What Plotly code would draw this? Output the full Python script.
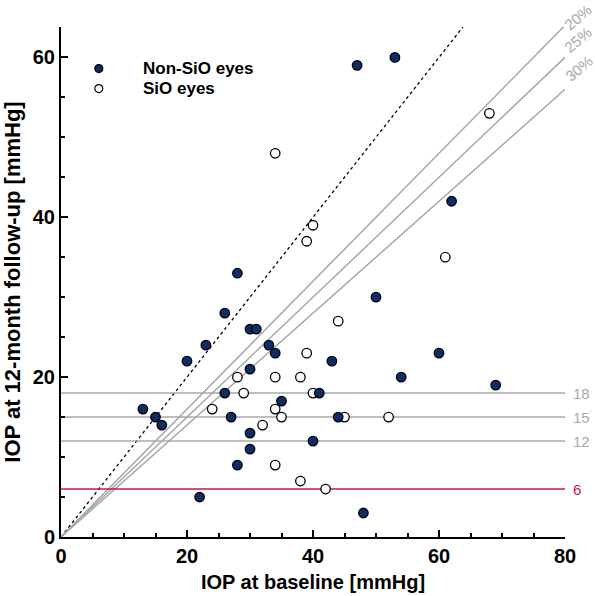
import plotly.graph_objects as go

# ---- data ----
nonsio_baseline = [47, 53, 62, 28, 50, 26, 30, 31, 23, 33, 34, 60, 20, 43, 30, 54, 69, 26, 41, 35, 13, 15, 27, 44, 16, 30, 40, 30, 28, 22, 48]
nonsio_followup = [59, 60, 42, 33, 30, 28, 26, 26, 24, 24, 23, 23, 22, 22, 21, 20, 19, 18, 18, 17, 16, 15, 15, 15, 14, 13, 12, 11, 9, 5, 3]
sio_baseline = [34, 68, 40, 39, 61, 44, 39, 28, 34, 38, 29, 40, 24, 34, 35, 45, 52, 32, 34, 38, 42]
sio_followup = [48, 53, 39, 37, 35, 27, 23, 20, 20, 20, 18, 18, 16, 16, 15, 15, 15, 14, 9, 7, 6]

reduction_labels = ["20%", "25%", "30%"]
reduction_factors = [0.8, 0.75, 0.7]
threshold_levels = [18, 15, 12]
threshold_labels = ["18", "15", "12"]
failure_level = 6
failure_label = "6"
legend_names = ["Non-SiO eyes", "SiO eyes"]

X_MAX = 80
Y_MAX = 63.8

NAVY = "#0f2c66"
GRAY = "#a8a8a8"
RED = "#c4174b"
FONT = "Liberation Sans, Arial, sans-serif"

fig = go.Figure()

# identity (dotted) line
fig.add_trace(go.Scatter(x=[0, Y_MAX], y=[0, Y_MAX], mode="lines",
                         line=dict(color="black", width=1.3, dash="dot"),
                         showlegend=False, hoverinfo="skip"))
# reduction lines
for f in reduction_factors:
    fig.add_trace(go.Scatter(x=[0, X_MAX], y=[0, X_MAX * f], mode="lines",
                             line=dict(color=GRAY, width=1.5),
                             showlegend=False, hoverinfo="skip"))
# threshold lines
for lvl in threshold_levels:
    fig.add_trace(go.Scatter(x=[0, X_MAX], y=[lvl, lvl], mode="lines",
                             line=dict(color=GRAY, width=1.5),
                             showlegend=False, hoverinfo="skip"))
fig.add_trace(go.Scatter(x=[0, X_MAX], y=[failure_level, failure_level], mode="lines",
                         line=dict(color=RED, width=1.5),
                         showlegend=False, hoverinfo="skip"))

# points
fig.add_trace(go.Scatter(x=sio_baseline, y=sio_followup, mode="markers",
                         marker=dict(size=9.5, color="white", line=dict(color="black", width=1.3)),
                         showlegend=False, cliponaxis=False))
fig.add_trace(go.Scatter(x=nonsio_baseline, y=nonsio_followup, mode="markers",
                         marker=dict(size=9.5, color=NAVY, line=dict(color="black", width=1.3)),
                         showlegend=False, cliponaxis=False))

# manual legend
leg_x = 6.0
leg_y = [58.6, 56.1]
fig.add_trace(go.Scatter(x=[leg_x], y=[leg_y[0]], mode="markers",
                         marker=dict(size=8, color=NAVY, line=dict(color="black", width=1.2)),
                         showlegend=False, cliponaxis=False))
fig.add_trace(go.Scatter(x=[leg_x], y=[leg_y[1]], mode="markers",
                         marker=dict(size=8, color="white", line=dict(color="black", width=1.2)),
                         showlegend=False, cliponaxis=False))

annotations = []
for name, yy in zip(legend_names, leg_y):
    annotations.append(dict(x=12.75, y=yy, xref="x", yref="y", text=name, showarrow=False,
                            xanchor="left", yanchor="middle",
                            font=dict(family=FONT, size=17, color="black", weight="bold")))

def px(xv):
    return xv / X_MAX

def py(yv):
    return yv / Y_MAX

pct_pos = [(82.0, 65.0), (82.1, 62.2), (82.2, 58.6)]
for lab, (ax_, ay_) in zip(reduction_labels, pct_pos):
    annotations.append(dict(x=px(ax_), y=py(ay_), xref="paper", yref="paper", text=lab,
                            showarrow=False, textangle=-40, xanchor="center", yanchor="middle",
                            font=dict(family=FONT, size=15, color=GRAY)))
for lab, lvl in zip(threshold_labels, threshold_levels):
    annotations.append(dict(x=px(80.9), y=py(lvl), xref="paper", yref="paper", text=lab,
                            showarrow=False, xanchor="left", yanchor="middle",
                            font=dict(family=FONT, size=15, color=GRAY)))
annotations.append(dict(x=px(80.9), y=py(failure_level), xref="paper", yref="paper",
                        text=failure_label, showarrow=False, xanchor="left", yanchor="middle",
                        font=dict(family=FONT, size=15, color=RED)))

axis_common = dict(
    showgrid=False, zeroline=False, showline=True, linecolor="black", linewidth=2,
    ticks="inside", ticklen=7, tickwidth=1.5, tickcolor="black", automargin=False,
    tickfont=dict(family=FONT, size=20, color="black", weight="bold"),
    minor=dict(ticks="inside", ticklen=4, tickwidth=1.5, tickcolor="black", dtick=5),
)

fig.update_layout(
    width=595, height=596,
    margin=dict(l=61.4, r=30.4, t=27.3, b=58.7),
    plot_bgcolor="white", paper_bgcolor="white",
    xaxis=dict(range=[0, X_MAX], dtick=20, **axis_common,
               title=dict(text="IOP at baseline [mmHg]", standoff=9,
                          font=dict(family=FONT, size=20, color="black", weight="bold"))),
    yaxis=dict(range=[0, Y_MAX], dtick=20, **axis_common,
               title=dict(text="IOP at 12-month follow-up [mmHg]", standoff=6,
                          font=dict(family=FONT, size=22, color="black", weight="bold"))),
    annotations=annotations,
    showlegend=False,
)

# remove the default page margin so the figure fills the window exactly
fig.write_html("out.html",
               config={"displayModeBar": False},
               post_script="document.body.style.margin='0';document.body.style.overflow='hidden';")
